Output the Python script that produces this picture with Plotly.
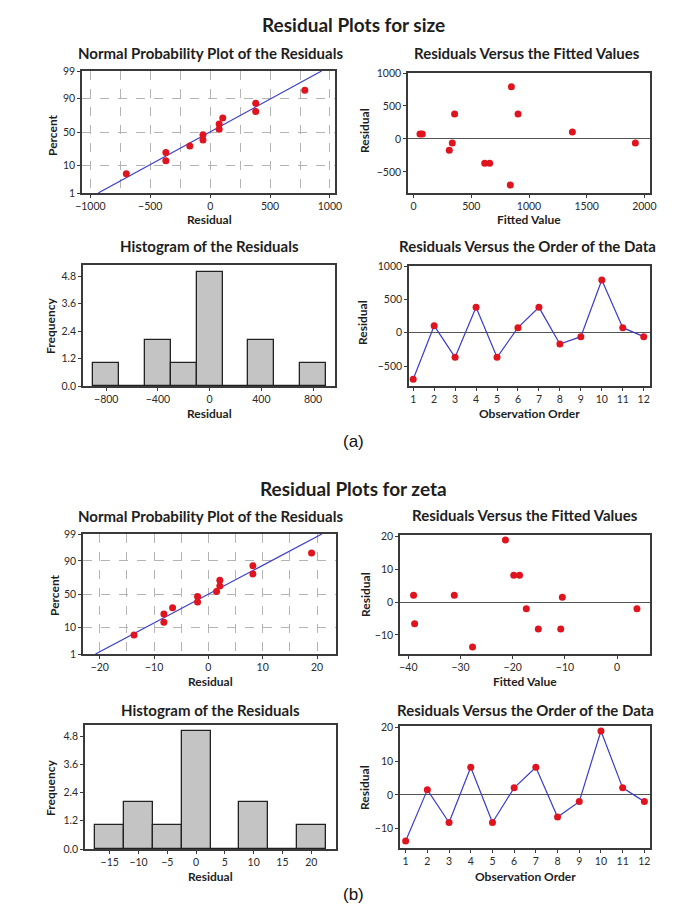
import plotly.graph_objects as go
from statistics import NormalDist

W, H = 685, 915

# ---------------- data: "size" ----------------
size_order = list(range(1, 13))
size_resid = [-700, 105, -370, 380, -370, 75, 380, -170, -60, 790, 75, -60]
size_fitted = [838, 1376, 616, 355, 659, 55, 905, 309, 335, 847, 75, 1922]
size_hist_centers = [-800, -600, -400, -200, 0, 200, 400, 600, 800]
size_hist_counts = [1, 0, 2, 1, 5, 0, 2, 0, 1]
size_hist_width = 200
size_line_x = [-935, 930]

# ---------------- data: "zeta" ----------------
zeta_order = list(range(1, 13))
zeta_resid = [-13.7, 1.5, -8.2, 8.2, -8.2, 2.1, 8.2, -6.6, -2.0, 19.0, 2.1, -2.0]
zeta_fitted = [-27.7, -10.5, -15.1, -19.8, -10.8, -39.0, -18.7, -38.8, -17.4, -21.4, -31.2, 3.8]
zeta_hist_centers = [-15, -10, -5, 0, 5, 10, 15, 20]
zeta_hist_counts = [1, 2, 1, 5, 0, 2, 0, 1]
zeta_hist_width = 5
zeta_line_x = [-20.8, 20.9]

# plotting positions of the normal probability plot (percent)
npp_percent = [5.6, 13.7, 21.8, 29.8, 37.9, 46.0, 54.0, 62.1, 70.2, 78.2, 86.3, 94.4]
npp_line_percent = [1, 99]
npp_tick_percent = [1, 10, 50, 90, 99]

nd = NormalDist()
def z(p):
    return nd.inv_cdf(p / 100.0)

RED = '#e0141e'
BLUE = '#3c3cc8'
FRAME = '#3a3a3a'
FONT = 'Lato'

def px_x(p):
    return p / W

def px_y(p):
    return 1 - p / H

def ax(i, kind):
    if kind == 'x':
        return 'xaxis' if i == 1 else f'xaxis{i}'
    return 'yaxis' if i == 1 else f'yaxis{i}'

def ref(i, kind):
    return kind if i == 1 else f'{kind}{i}'

common = dict(showline=True, linecolor=FRAME, linewidth=1.5, mirror=True,
              ticks='outside', ticklen=3, tickwidth=1, tickcolor=FRAME,
              tickfont=dict(family=FONT, size=10.5, color='#2a2a2a'),
              showgrid=False, zeroline=False, fixedrange=True, automargin=False)

fig = go.Figure()
layout = {}
annotations = []

def title_ann(text, xc, yc, size=15):
    annotations.append(dict(text=f'<b>{text}</b>', x=px_x(xc), y=px_y(yc), xref='paper', yref='paper',
                            showarrow=False, xanchor='center', yanchor='middle',
                            font=dict(family=FONT, size=size, color='#1e1e1e')))

def axis_ann(text, xc, yc, rot=0):
    annotations.append(dict(text=f'<b>{text}</b>', x=px_x(xc), y=px_y(yc), xref='paper', yref='paper',
                            showarrow=False, xanchor='center', yanchor='middle', textangle=rot,
                            font=dict(family=FONT, size=12, color='#1e1e1e')))

def set_axes(i, box, xr, yr, xextra=None, yextra=None):
    x0, y0, x1, y1 = box
    xa = dict(common, domain=[px_x(x0), px_x(x1)], anchor=ref(i, 'y'), range=xr)
    ya = dict(common, domain=[px_y(y1), px_y(y0)], anchor=ref(i, 'x'), range=yr)
    if xextra:
        xa.update(xextra)
    if yextra:
        ya.update(yextra)
    layout[ax(i, 'x')] = xa
    layout[ax(i, 'y')] = ya

def npp(i, box, resid, line_x, xr, dt, minor_dt):
    srt = sorted(resid)
    fig.add_trace(go.Scatter(x=line_x, y=[z(p) for p in npp_line_percent], mode='lines',
                             line=dict(color=BLUE, width=1.2), xaxis=ref(i, 'x'), yaxis=ref(i, 'y'),
                             showlegend=False, hoverinfo='skip'))
    fig.add_trace(go.Scatter(x=srt, y=[z(p) for p in npp_percent], mode='markers',
                             marker=dict(color=RED, size=7), xaxis=ref(i, 'x'), yaxis=ref(i, 'y'),
                             showlegend=False))
    grid = dict(showgrid=True, gridcolor='#b4b4b4', griddash='dash', gridwidth=1)
    set_axes(i, box, xr, [z(1), z(99)],
             xextra=dict(grid, dtick=dt, tick0=0,
                         minor=dict(dtick=minor_dt, tick0=0, showgrid=True, gridcolor='#b4b4b4',
                                    griddash='dash', ticks='')),
             yextra=dict(grid, tickvals=[z(p) for p in npp_tick_percent],
                         ticktext=[str(p) for p in npp_tick_percent]))

def fitted(i, box, fv, resid, xr, yr, xdt, ydt):
    fig.add_trace(go.Scatter(x=fv, y=resid, mode='markers', marker=dict(color=RED, size=7),
                             xaxis=ref(i, 'x'), yaxis=ref(i, 'y'), showlegend=False))
    set_axes(i, box, xr, yr, xextra=dict(dtick=xdt, tick0=0),
             yextra=dict(dtick=ydt, tick0=0, zeroline=True, zerolinecolor='#555', zerolinewidth=1.2))

def hist(i, box, centers, counts, width, xr, yr, tickvals):
    fig.add_trace(go.Bar(x=centers, y=counts, width=width,
                         marker=dict(color='#c4c4c4', line=dict(color='#222', width=1.3)),
                         xaxis=ref(i, 'x'), yaxis=ref(i, 'y'), showlegend=False))
    set_axes(i, box, xr, yr, xextra=dict(tickvals=tickvals),
             yextra=dict(tickvals=[0, 1.2, 2.4, 3.6, 4.8], tickformat='.1f'))

def order(i, box, ordv, resid, xr, yr, ydt):
    fig.add_trace(go.Scatter(x=ordv, y=resid, mode='lines+markers',
                             line=dict(color=BLUE, width=1.2), marker=dict(color=RED, size=7),
                             xaxis=ref(i, 'x'), yaxis=ref(i, 'y'), showlegend=False))
    set_axes(i, box, xr, yr, xextra=dict(tickvals=ordv),
             yextra=dict(dtick=ydt, tick0=0, zeroline=True, zerolinecolor='#555', zerolinewidth=1.2))

# ---------------- top group (size) ----------------
npp(1, (74, 63, 327, 185), size_resid, size_line_x, [-1070, 1042], 500, 250)
fitted(2, (400, 65, 642, 185), size_fitted, size_resid, [-49, 2049], [-820, 1000], 500, 500)
hist(3, (75, 257, 327, 378), size_hist_centers, size_hist_counts, size_hist_width,
     [-980, 970], [0, 5.3], [-800, -400, 0, 400, 800])
order(4, (401, 258, 642, 378), size_order, size_resid, [0.8, 12.3], [-800, 1000], 500)

# ---------------- bottom group (zeta) ----------------
npp(5, (75, 526, 328, 646), zeta_resid, zeta_line_x, [-23.1, 23.5], 10, 5)
fitted(6, (392, 527, 642, 646), zeta_fitted, zeta_resid, [-41.6, 6.3], [-15.8, 20.5], 10, 10)
hist(7, (77, 717, 328, 841), zeta_hist_centers, zeta_hist_counts, zeta_hist_width,
     [-19.3, 24.3], [0, 5.27], zeta_hist_centers)
order(8, (392, 718, 642, 840), zeta_order, zeta_resid, [0.74, 12.26], [-15.8, 20.5], 10)

# ---------------- titles ----------------
title_ann('Residual Plots for size', 345, 17, size=19)
title_ann('Residual Plots for zeta', 345, 480, size=19)

title_ann('Normal Probability Plot of the Residuals', 202, 45)
title_ann('Residuals Versus the Fitted Values', 519, 45)
title_ann('Histogram of the Residuals', 201, 238)
title_ann('Residuals Versus the Order of the Data', 519, 238)
title_ann('Normal Probability Plot of the Residuals', 202, 508)
title_ann('Residuals Versus the Fitted Values', 517, 507)
title_ann('Histogram of the Residuals', 202, 702)
title_ann('Residuals Versus the Order of the Data', 517, 702)

# axis titles
axis_ann('Percent', 45, 127, -90)
axis_ann('Residual', 201, 212)
axis_ann('Residual', 356, 123, -90)
axis_ann('Fitted Value', 521, 212)
axis_ann('Frequency', 42, 318, -90)
axis_ann('Residual', 201, 405)
axis_ann('Residual', 355, 315, -90)
axis_ann('Observation Order', 521, 406)

axis_ann('Percent', 46, 587, -90)
axis_ann('Residual', 202, 673)
axis_ann('Residual', 357, 587, -90)
axis_ann('Fitted Value', 517, 673)
axis_ann('Frequency', 42, 780, -90)
axis_ann('Residual', 202, 868)
axis_ann('Residual', 356, 780, -90)
axis_ann('Observation Order', 517, 868)

# panel labels
for lab, yc in [('(a)', 433), ('(b)', 886)]:
    annotations.append(dict(text=lab, x=px_x(345), y=px_y(yc), xref='paper', yref='paper',
                            showarrow=False, xanchor='center', yanchor='middle',
                            font=dict(family='Liberation Sans', size=17, color='#111')))

fig.update_layout(**layout)
fig.update_layout(width=W, height=H, margin=dict(l=0, r=0, t=0, b=0, autoexpand=False),
                  paper_bgcolor='white', plot_bgcolor='white', template='none',
                  annotations=annotations, bargap=0, showlegend=False)

fig.write_html('out.html')
